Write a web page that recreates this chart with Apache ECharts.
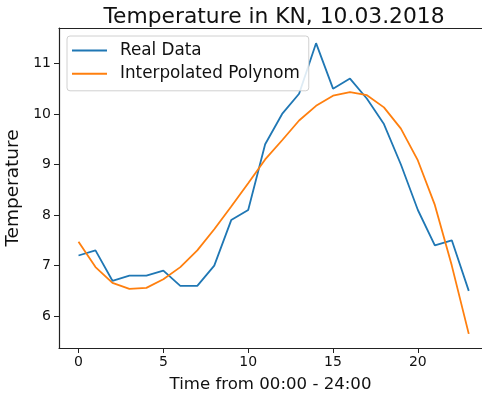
<!DOCTYPE html>
<html><head><meta charset="utf-8">
<script src="https://cdn.jsdelivr.net/npm/echarts@6/dist/echarts.min.js"></script>
<style>html,body{margin:0;padding:0;background:#fff}#c{width:482px;height:396px}</style>
</head><body><div id="c"></div>
<script>
const hours = [0,1,2,3,4,5,6,7,8,9,10,11,12,13,14,15,16,17,18,19,20,21,22,23];
const realData = [7.2,7.3,6.7,6.8,6.8,6.9,6.6,6.6,7.0,7.9,8.1,9.4,10.0,10.4,11.4,10.5,10.7,10.3,9.8,9.0,8.1,7.4,7.5,6.5];
const polyData = [7.47,6.97,6.66,6.54,6.56,6.73,6.97,7.30,7.72,8.17,8.63,9.1,9.48,9.87,10.16,10.36,10.43,10.37,10.13,9.71,9.08,8.2,7.0,5.65];
const xTicks = [0,5,10,15,20];
const yTicks = [6,7,8,9,10,11];
const FONT = 'DejaVu Sans';
const chart = echarts.init(document.getElementById('c'), null, {renderer:'canvas'});
const axisColor = '#222';
const XMIN = -1.15, XMAX = 23.78;
chart.setOption({
  animation:false,
  backgroundColor:'#fff',
  title:{text:'Temperature in KN, 10.03.2018', left:269, textAlign:'center', top:1,
    textStyle:{fontFamily:FONT, fontSize:21.8, fontWeight:'normal', color:'#111'}},
  grid:{left:59, top:28, width:423, height:320, show:false, containLabel:false, outerBoundsMode:'none'},
  legend:{orient:'vertical', left:67, top:36, padding:[4.5,9,7,5], itemGap:3.3,
    itemWidth:35, itemHeight:2, icon:'rect',
    backgroundColor:'rgba(255,255,255,0.85)', borderColor:'#d0d0d0', borderWidth:1, borderRadius:3,
    textStyle:{fontFamily:FONT, fontSize:16.8, color:'#111', lineHeight:20, padding:[0,0,0,8]},
    data:['Real Data','Interpolated Polynom']},
  xAxis:[{type:'value', min:XMIN, max:XMAX,
    name:'Time from 00:00 - 24:00', nameLocation:'middle', nameGap:28,
    nameTextStyle:{fontFamily:FONT, fontSize:16.6, color:'#111'},
    axisLine:{show:true, onZero:false, lineStyle:{color:axisColor, width:1.2}},
    axisTick:{show:true, length:5, lineStyle:{color:axisColor}, customValues:xTicks},
    axisLabel:{fontFamily:FONT, fontSize:14, color:'#111', margin:7, customValues:xTicks},
    splitLine:{show:false}},
   {type:'value', position:'top', min:XMIN, max:XMAX,
    axisLine:{show:true, onZero:false, lineStyle:{color:axisColor, width:1.2}},
    axisTick:{show:false}, axisLabel:{show:false}, splitLine:{show:false}}],
  yAxis:{type:'value', min:5.37, max:11.70,
    name:'Temperature', nameLocation:'middle', nameGap:27, nameRotate:90,
    nameTextStyle:{fontFamily:FONT, fontSize:18.5, color:'#111'},
    axisLine:{show:true, onZero:false, lineStyle:{color:axisColor, width:1.2}},
    axisTick:{show:true, length:5, lineStyle:{color:axisColor}, customValues:yTicks},
    axisLabel:{fontFamily:FONT, fontSize:14, color:'#111', margin:8, customValues:yTicks},
    splitLine:{show:false}},
  series:[
    {name:'Real Data', type:'line', data:hours.map((h,i)=>[h,realData[i]]), symbol:'none',
      lineStyle:{color:'#1f77b4', width:1.8}, itemStyle:{color:'#1f77b4'}},
    {name:'Interpolated Polynom', type:'line', data:hours.map((h,i)=>[h,polyData[i]]), symbol:'none',
      lineStyle:{color:'#ff7f0e', width:1.8}, itemStyle:{color:'#ff7f0e'}}
  ]
});
</script></body></html>
